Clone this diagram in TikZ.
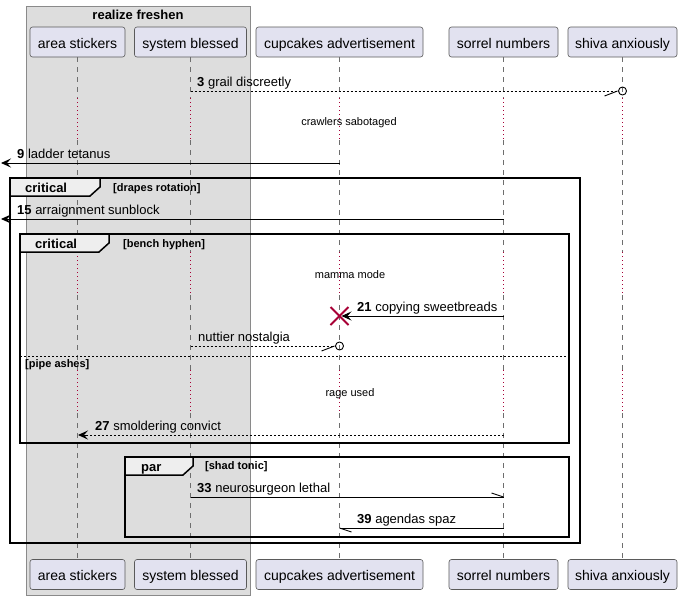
\documentclass[tikz,border=0pt]{standalone}
\usepackage{fontspec}
\setmainfont{Liberation Sans}
\usetikzlibrary{arrows.meta,calc}
\definecolor{partfill}{HTML}{E2E2F0}
\definecolor{partdraw}{HTML}{5A5A5A}
\definecolor{grpfill}{HTML}{DDDDDD}
\definecolor{grpdraw}{HTML}{8A8A8A}
\definecolor{tabfill}{HTML}{EEEEEE}
\definecolor{delayred}{HTML}{A80036}
\definecolor{lifegray}{HTML}{6E6E6E}
\begin{document}
\begin{tikzpicture}[x=1pt,y=-1pt,
 part/.style={draw=partdraw, fill=partfill, rounded corners=2.5pt, line width=0.6pt, inner sep=0pt, minimum height=30pt, text height=13pt, text depth=1pt, font=\fontsize{14}{16}\selectfont},
 life/.style={draw=lifegray, line width=0.8pt, dash pattern=on 5pt off 5pt},
 delayl/.style={draw=delayred, line width=0.9pt, dash pattern=on 1pt off 3pt},
 msg/.style={line width=0.9pt},
 dmsg/.style={line width=0.9pt, dash pattern=on 2pt off 2pt},
 head/.style={-{Stealth[length=10pt,width=9pt,inset=4pt]}},
 lbl/.style={anchor=base west, inner sep=0pt, font=\fontsize{13}{15}\selectfont},
 dlbl/.style={anchor=base, inner sep=0pt, font=\fontsize{11}{13}\selectfont},
 frm/.style={line width=1.5pt},
 tabtxt/.style={anchor=base west, inner sep=0pt, font=\bfseries\fontsize{13}{15}\selectfont},
 guard/.style={anchor=base west, inner sep=0pt, font=\bfseries\fontsize{11}{13}\selectfont},
 lost/.style={line width=0.9pt},
]
\useasboundingbox (0,0) rectangle (682,600);
\fill[white] (0,0) rectangle (682,600);
% group box
\draw[fill=grpfill, draw=grpdraw, line width=0.8pt] (26,6) rectangle (250,595);
\node[anchor=base, inner sep=0pt, font=\bfseries\fontsize{13}{15}\selectfont] (gt) at (138,19) {realize freshen};
% participants
\node[part, minimum width=95pt] (tA) at (77.5,42) {area stickers};
\node[part, minimum width=112pt] (tB) at (190.5,42) {system blessed};
\node[part, minimum width=167pt] (tC) at (339.5,42) {cupcakes advertisement};
\node[part, minimum width=109pt] (tD) at (503.5,42) {sorrel numbers};
\node[part, minimum width=109pt] (tE) at (622.5,42) {shiva anxiously};
\node[part, minimum width=95pt] (bA) at (77.5,574.5) {area stickers};
\node[part, minimum width=112pt] (bB) at (190.5,574.5) {system blessed};
\node[part, minimum width=167pt] (bC) at (339.5,574.5) {cupcakes advertisement};
\node[part, minimum width=109pt] (bD) at (503.5,574.5) {sorrel numbers};
\node[part, minimum width=109pt] (bE) at (622.5,574.5) {shiva anxiously};
% levels
\coordinate (y98) at (0,98);
\coordinate (y140) at (0,140);
\coordinate (y252) at (0,252);
\coordinate (y295) at (0,295);
\coordinate (y370) at (0,370);
\coordinate (y413) at (0,413);
% lifelines
\foreach \p in {A,B,C,D,E}{
  \draw[life] (t\p.south) -- (t\p.south |- y98);
  \draw[delayl] (t\p.south |- y98) -- (t\p.south |- y140);
  \draw[life] (t\p.south |- y140) -- (t\p.south |- y252);
  \draw[delayl] (t\p.south |- y252) -- (t\p.south |- y295);
  \draw[life] (t\p.south |- y295) -- (t\p.south |- y370);
  \draw[delayl] (t\p.south |- y370) -- (t\p.south |- y413);
  \draw[life] (t\p.south |- y413) -- (b\p.north);
}
% message levels
\coordinate (L3) at (0,91);
\coordinate (L9) at (0,163);
\coordinate (L15) at (0,219);
\coordinate (L21) at (0,316);
\coordinate (Lnn) at (0,346);
\coordinate (L27) at (0,435);
\coordinate (L33) at (0,497);
\coordinate (L39) at (0,528);
\coordinate (edge9) at (1,163);
\coordinate (edge15) at (1,219);
% message 3 (lost)
\draw[dmsg] (tB |- L3) -- ($(tE |- L3)+(-4,0)$);
\draw[lost] ($(tE |- L3)+(-18,5)$) -- ($(tE |- L3)+(-5,0)$);
\draw[lost] (tE |- L3) circle[radius=4];
\node[lbl] (n3) at (197,86) {\textbf{3} grail discreetly};
% delay 1
\node[dlbl] (dl1) at (349,125) {crawlers sabotaged};
% message 9
\draw[msg,head] (tC |- L9) -- (edge9);
\node[lbl] (n9) at (17,158) {\textbf{9} ladder tetanus};
% outer critical frame
\draw[frm] (10,178) rectangle (580,543);
\draw[frm, fill=tabfill] (10,178) -- (100,178) -- (100,187) -- (90,196) -- (10,196) -- cycle;
\node[tabtxt] (c1) at (25,192) {critical};
\node[guard] (g1) at (113,191) {[drapes rotation]};
% message 15
\draw[msg,head] (tD |- L15) -- (edge15);
\node[lbl] (n15) at (17,214) {\textbf{15} arraignment sunblock};
% inner critical
\draw[frm] (20,234) rectangle (569,443);
\draw[frm, fill=tabfill] (20,234) -- (109,234) -- (109,243) -- (99,252) -- (20,252) -- cycle;
\node[tabtxt] (c2) at (35,248) {critical};
\node[guard] (g2) at (123,247) {[bench hyphen]};
\node[dlbl] (dl2) at (350,278) {mamma mode};
% message 21 with destroy
\draw[msg,head] (tD |- L21) -- ($(tC |- L21)+(2,0)$);
\draw[delayred, line width=2pt] ($(tC |- L21)+(-9,-9)$) -- ($(tC |- L21)+(9,9)$);
\draw[delayred, line width=2pt] ($(tC |- L21)+(-9,9)$) -- ($(tC |- L21)+(9,-9)$);
\node[lbl] (n21) at (357,311) {\textbf{21} copying sweetbreads};
% nuttier nostalgia
\draw[dmsg] (tB |- Lnn) -- ($(tC |- Lnn)+(-4,0)$);
\draw[lost] ($(tC |- Lnn)+(-18,5)$) -- ($(tC |- Lnn)+(-5,0)$);
\draw[lost] (tC |- Lnn) circle[radius=4];
\node[lbl] (nnn) at (198,341) {nuttier nostalgia};
% separator
\draw[line width=0.9pt, dash pattern=on 2pt off 2pt] (20,356) -- (569,356);
\node[guard] (g3) at (25,367) {[pipe ashes]};
\node[dlbl] (dl3) at (350,396) {rage used};
% message 27
\draw[dmsg] (tD |- L27) -- ($(tA |- L27)+(8,0)$);
\draw[msg,head] ($(tA |- L27)+(9,0)$) -- ($(tA |- L27)+(0.5,0)$);
\node[lbl] (n27) at (95,430) {\textbf{27} smoldering convict};
% par frame
\draw[frm] (125,457) rectangle (569,537);
\draw[frm, fill=tabfill] (125,457) -- (193,457) -- (193,466) -- (183,475) -- (125,475) -- cycle;
\node[tabtxt] (c3) at (141,471) {par};
\node[guard] (g4) at (205,469) {[shad tonic]};
% message 33
\draw[msg] (tB |- L33) -- (tD |- L33);
\draw[msg] ($(tD |- L33)+(-12,-4)$) -- (tD |- L33);
\node[lbl] (n33) at (197,492) {\textbf{33} neurosurgeon lethal};
% message 39
\draw[msg] (tD |- L39) -- (tC |- L39);
\draw[msg] ($(tC |- L39)+(12,4)$) -- (tC |- L39);
\node[lbl] (n39) at (357,523) {\textbf{39} agendas spaz};
\end{tikzpicture}
\end{document}
